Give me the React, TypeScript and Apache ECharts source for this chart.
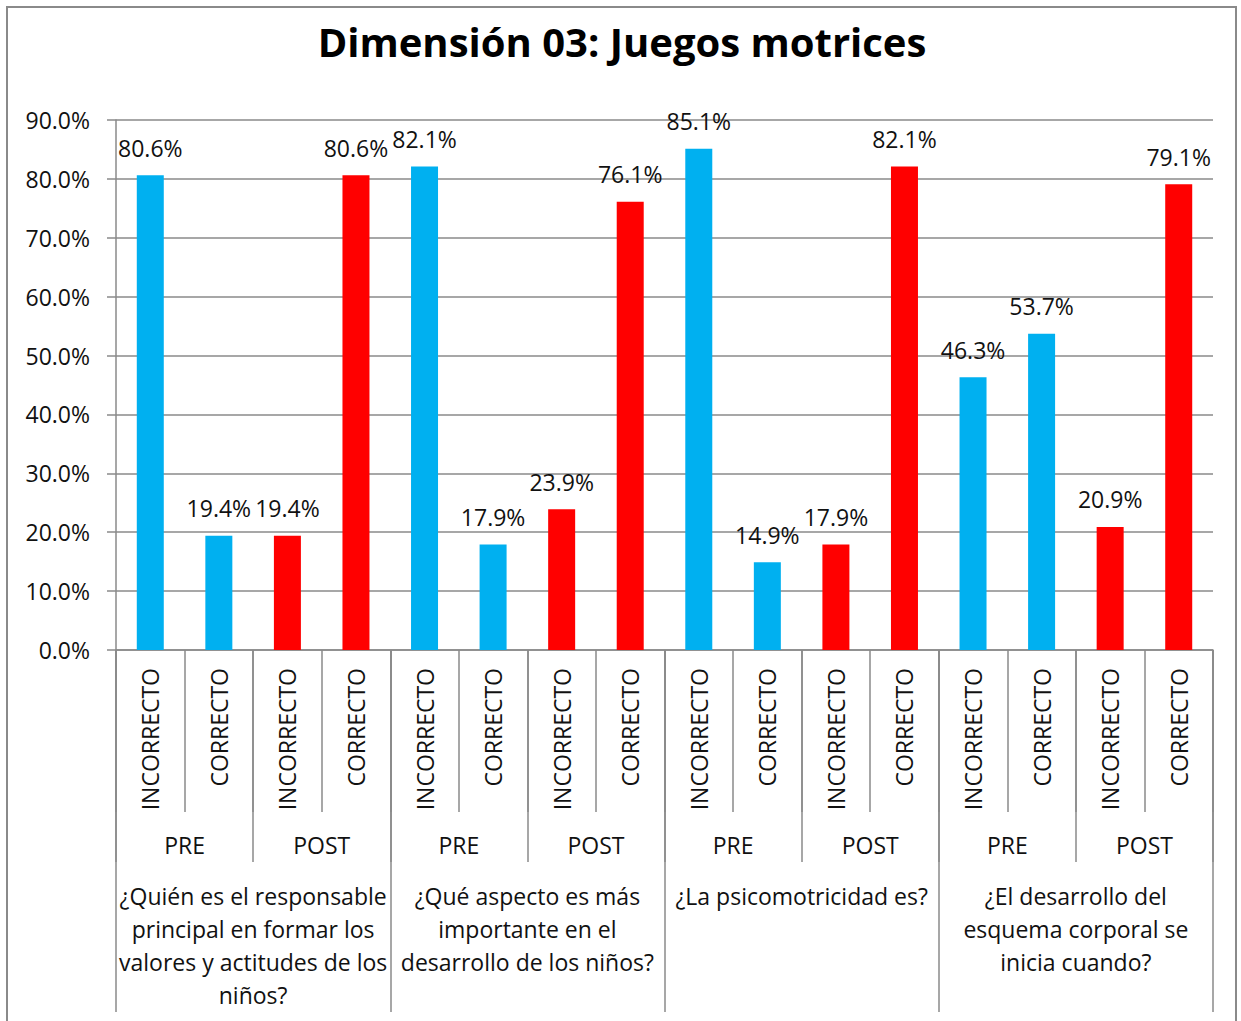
import React, { useEffect, useRef } from "react";
import * as echarts from "echarts";

const TITLE = "Dimensión 03: Juegos motrices";

const answers = [
  "INCORRECTO", "CORRECTO", "INCORRECTO", "CORRECTO",
  "INCORRECTO", "CORRECTO", "INCORRECTO", "CORRECTO",
  "INCORRECTO", "CORRECTO", "INCORRECTO", "CORRECTO",
  "INCORRECTO", "CORRECTO", "INCORRECTO", "CORRECTO",
];

const phases = ["PRE", "POST", "PRE", "POST", "PRE", "POST", "PRE", "POST"];

const questions = [
  "¿Quién es el responsable\nprincipal en formar los\nvalores y actitudes de los\nniños?",
  "¿Qué aspecto es más\nimportante en el\ndesarrollo de los niños?",
  "¿La psicomotricidad es?",
  "¿El desarrollo del\nesquema corporal se\ninicia cuando?",
];

const values = [
  80.6, 19.4, 19.4, 80.6,
  82.1, 17.9, 23.9, 76.1,
  85.1, 14.9, 17.9, 82.1,
  46.3, 53.7, 20.9, 79.1,
];

const yTicks = { min: 0, max: 90, interval: 10 };

const FONT = "'Open Sans', 'Noto Sans', sans-serif";
const GRAY = "#8a8a8a";
const BLUE = "#00B0F0";
const RED = "#FF0000";

export default function App() {
  const ref = useRef<HTMLDivElement>(null);

  useEffect(() => {
    if (!ref.current) return;
    const chart = echarts.init(ref.current, null, { renderer: "svg" });
    const perPhase = answers.length / phases.length;

    const option: any = {
      animation: false,
      backgroundColor: "#ffffff",
      textStyle: { fontFamily: FONT },
      graphic: [
        {
          type: "rect",
          shape: { x: 7, y: 7, width: 1229, height: 1100 },
          style: { fill: "none", stroke: GRAY, lineWidth: 2 },
          silent: true,
        },
        {
          type: "text",
          x: 622,
          y: 41,
          style: {
            text: TITLE,
            font: `bold 40px ${FONT}`,
            fill: "#000000",
            textAlign: "center",
            textVerticalAlign: "middle",
          },
        },
      ],
      grid: {
        left: 116,
        right: 28,
        top: 120,
        bottom: 371,
        containLabel: false,
        outerBoundsMode: "none",
      },
      yAxis: {
        type: "value",
        min: yTicks.min,
        max: yTicks.max,
        interval: yTicks.interval,
        axisLine: { show: true, lineStyle: { color: GRAY, width: 1.5 } },
        axisTick: { show: true, length: 9, lineStyle: { color: GRAY, width: 1.5 } },
        splitLine: { show: true, lineStyle: { color: GRAY, width: 1.5 } },
        axisLabel: {
          margin: 26,
          fontSize: 23,
          color: "#111111",
          fontFamily: FONT,
          padding: [0, 0, 3, 0],
          formatter: (v: number) => v.toFixed(1) + "%",
        },
      },
      xAxis: [
        {
          type: "category",
          position: "bottom",
          data: answers,
          boundaryGap: true,
          axisLine: { show: true, lineStyle: { color: GRAY, width: 1.5 } },
          axisTick: { show: true, interval: 0, length: 162, lineStyle: { color: GRAY, width: 1.5 } },
          axisLabel: {
            interval: 0,
            rotate: 90,
            margin: 18,
            fontSize: 23,
            color: "#111111",
            fontFamily: FONT,
          },
        },
        {
          type: "category",
          position: "bottom",
          data: phases,
          boundaryGap: true,
          axisLine: { show: false },
          axisTick: { show: true, interval: 0, length: 212, lineStyle: { color: GRAY, width: 1.5 } },
          axisLabel: {
            interval: 0,
            margin: 183,
            fontSize: 23,
            lineHeight: 23,
            color: "#111111",
            fontFamily: FONT,
          },
        },
        {
          type: "category",
          position: "bottom",
          data: questions,
          boundaryGap: true,
          axisLine: { show: false },
          axisTick: { show: true, interval: 0, length: 362, lineStyle: { color: GRAY, width: 1.5 } },
          axisLabel: {
            interval: 0,
            margin: 229,
            fontSize: 23,
            lineHeight: 33,
            align: "center",
            color: "#111111",
            fontFamily: FONT,
          },
        },
      ],
      series: [
        {
          type: "bar",
          xAxisIndex: 0,
          barWidth: 27,
          data: values.map((v, i) => ({
            value: v,
            itemStyle: {
              color: phases[Math.floor(i / perPhase)] === "PRE" ? BLUE : RED,
            },
          })),
          label: {
            show: true,
            position: "top",
            distance: 16,
            fontSize: 23,
            color: "#111111",
            fontFamily: FONT,
            formatter: (p: any) => Number(p.value).toFixed(1) + "%",
          },
        },
      ],
    };

    chart.setOption(option);
    return () => chart.dispose();
  }, []);

  return (
    <div
      ref={ref}
      style={{ position: "absolute", left: 0, top: 0, width: 1241, height: 1021 }}
    />
  );
}
